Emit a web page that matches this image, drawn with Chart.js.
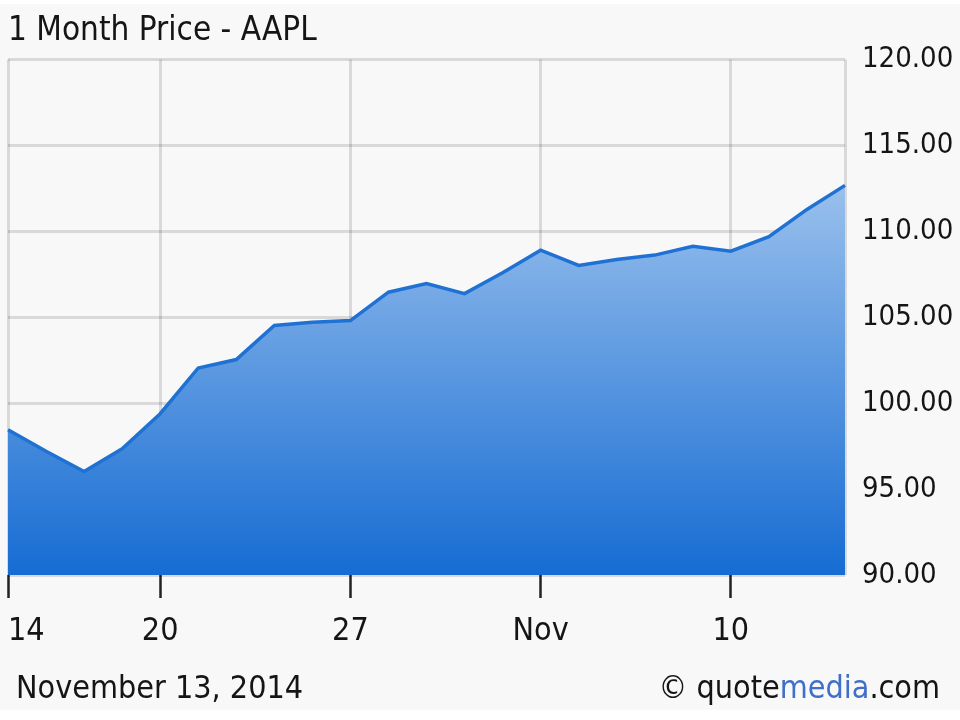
<!DOCTYPE html>
<html>
<head>
<meta charset="utf-8">
<script src="https://cdn.jsdelivr.net/npm/chart.js@4.4.0/dist/chart.umd.min.js"></script>
<style>
  html, body { margin: 0; padding: 0; background: #ffffff; }
  #wrap { width: 960px; height: 720px; }
</style>
</head>
<body>
<div id="wrap"><canvas id="myChart" width="960" height="720"></canvas></div>
<script>
// trading days, Oct 14 - Nov 13 2014
let days = ['Oct 14', 'Oct 15', 'Oct 16', 'Oct 17', 'Oct 20', 'Oct 21', 'Oct 22', 'Oct 23', 'Oct 24',
            'Oct 27', 'Oct 28', 'Oct 29', 'Oct 30', 'Oct 31', 'Nov 3', 'Nov 4', 'Nov 5', 'Nov 6', 'Nov 7',
            'Nov 10', 'Nov 11', 'Nov 12', 'Nov 13'];
let prices = [98.45, 97.2, 96.02, 97.35, 99.39, 102.05, 102.54, 104.52, 104.71,
              104.81, 106.46, 106.97, 106.38, 107.59, 108.91, 108.02, 108.37, 108.62, 109.14,
              108.85, 109.69, 111.28, 112.68];
// x tick labels by index ('' = no tick shown)
let tickLabels = ['14', '', '', '', '20', '', '', '', '', '27', '', '', '', '', 'Nov', '', '', '', '', '10', '', '', ''];
let yTicks = [90, 95, 100, 105, 110, 115, 120];

let fontFamily = "'DejaVu Sans Condensed', 'DejaVu Sans', sans-serif";
let gridColor = 'rgba(0,0,0,0.12)';

function areaGradient(context) {
    let chart = context.chart;
    let area = chart.chartArea;
    if (!area) return '#6fa5e2';
    let g = chart.ctx.createLinearGradient(0, area.top, 0, area.bottom);
    g.addColorStop(0, '#c4dbf5');
    g.addColorStop(1, '#166cd3');
    return g;
}

// background and footer texts
let decorations = {
    id: 'decorations',
    beforeDraw(chart) {
        let ctx = chart.ctx;
        ctx.save();
        ctx.fillStyle = '#f8f8f8';
        ctx.fillRect(0, 4, chart.width, 706);
        ctx.restore();
    },
    afterDraw(chart) {
        let ctx = chart.ctx;
        ctx.save();
        ctx.font = '32px ' + fontFamily;
        ctx.textBaseline = 'alphabetic';
        ctx.fillStyle = '#151515';
        ctx.textAlign = 'left';
        ctx.fillText('November 13, 2014', 16, 698);

        let parts = [['© quote', '#151515'], ['media', '#3f6fc8'], ['.com', '#151515']];
        let total = parts.reduce((s, p) => s + ctx.measureText(p[0]).width, 0);
        let x = 940 - total;
        for (let p of parts) {
            ctx.fillStyle = p[1];
            ctx.fillText(p[0], x, 698);
            x += ctx.measureText(p[0]).width;
        }
        ctx.restore();
    }
};

new Chart(document.getElementById('myChart'), {
    type: 'line',
    data: {
        labels: days,
        datasets: [{
            data: prices,
            borderColor: '#1f72d3',
            borderWidth: 3.5,
            backgroundColor: areaGradient,
            fill: 'start',
            pointRadius: 0,
            tension: 0
        }]
    },
    options: {
        responsive: false,
        animation: false,
        layout: {
            padding: { left: 8, right: 0, top: 0, bottom: 65 }
        },
        plugins: {
            legend: { display: false },
            tooltip: { enabled: false },
            title: {
                display: true,
                text: '1 Month Price - AAPL',
                align: 'start',
                color: '#151515',
                font: { family: fontFamily, size: 33, weight: 'normal', lineHeight: 1.2 },
                padding: { top: 12, bottom: 8 }
            }
        },
        scales: {
            x: {
                z: 1,
                border: { display: false },
                grid: {
                    color: (c) => (tickLabels[c.index] || c.index === days.length - 1) ? gridColor : 'rgba(0,0,0,0)',
                    lineWidth: 3,
                    tickColor: (c) => tickLabels[c.index] ? '#222222' : 'rgba(0,0,0,0)',
                    tickLength: 23,
                    tickWidth: 2.5
                },
                ticks: {
                    autoSkip: false,
                    maxRotation: 0,
                    padding: 14,
                    color: '#151515',
                    font: { family: fontFamily, size: 32 },
                    // first label sits to the right of its tick
                    callback: (v, i) => i === 0 ? '\u2007\u2007' + tickLabels[i] : tickLabels[i]
                },
                afterFit: (scale) => {
                    scale.height = 80;
                    scale.paddingLeft = 0;
                    scale.paddingRight = 0;
                }
            },
            y: {
                z: 1,
                position: 'right',
                min: 90,
                max: 120,
                border: { display: false },
                grid: {
                    color: gridColor,
                    lineWidth: 3,
                    drawTicks: false
                },
                afterBuildTicks: (scale) => {
                    scale.ticks = yTicks.map(v => ({ value: v }));
                },
                ticks: {
                    padding: 17,
                    color: '#151515',
                    font: { family: fontFamily, size: 29 },
                    callback: (v) => v.toFixed(2)
                },
                afterFit: (scale) => {
                    scale.width = 115;
                }
            }
        }
    },
    plugins: [decorations]
});
</script>
</body>
</html>
